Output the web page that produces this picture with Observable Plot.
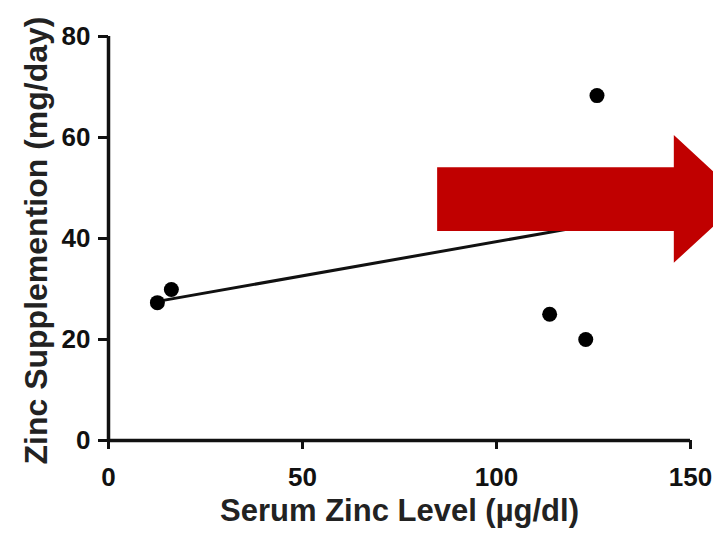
<!DOCTYPE html>
<html><head><meta charset="utf-8">
<script src="https://cdn.jsdelivr.net/npm/d3@7"></script>
<script src="https://cdn.jsdelivr.net/npm/@observablehq/plot@0.6"></script>
<style>body{margin:0;background:#fff;} svg{overflow:visible;}</style>
</head><body><div id="chart"></div>
<script>
const serumZinc = [12.6, 16.2, 113.7, 123, 125.9];
const zincSupp = [27.3, 29.9, 25, 20, 68.3];
const fitX = [13, 126];
const fitY = [27.6, 42.9];
const xTicks = [0, 50, 100, 150];
const yTicks = [0, 20, 40, 60, 80];
const xTitle = "Serum Zinc Level (µg/dl)";
const yTitle = "Zinc Supplemention (mg/day)";
const arrowX = [84.7, 145.7, 145.7, 163.6, 145.7, 145.7, 84.7];
const arrowY = [54.1, 54.1, 60.5, 47.8, 35.2, 41.5, 41.5];

const pts = serumZinc.map((x, i) => ({x, y: zincSupp[i]}));
const fit = fitX.map((x, i) => ({x, y: fitY[i]}));
const arrow = arrowX.map((x, i) => ({x, y: arrowY[i]}));

const chart = Plot.plot({
  width: 713, height: 539,
  marginLeft: 108, marginRight: 23, marginTop: 36, marginBottom: 99,
  x: {domain: [0, 150]},
  y: {domain: [0, 80]},
  style: {fontFamily: "Liberation Sans, Arial, sans-serif", fontWeight: "bold", color: "#111", background: "#fff"},
  marks: [
    Plot.axisX({ticks: xTicks, tickSize: 9, tickPadding: 18, strokeWidth: 3, fontSize: 26, label: null}),
    Plot.axisY({ticks: yTicks, tickSize: 10, tickPadding: 8, strokeWidth: 3, fontSize: 26, label: null}),
    Plot.ruleY([0], {x1: 0, x2: 150, strokeWidth: 3.5, stroke: "#111"}),
    Plot.ruleX([0], {y1: 0, y2: 80, strokeWidth: 3.5, stroke: "#111"}),
    Plot.text([xTitle], {frameAnchor: "bottom", dy: 80, fontSize: 31, fill: "#222"}),
    Plot.text([yTitle], {frameAnchor: "left", textAnchor: "middle", rotate: -90, dx: -72, dy: 2, fontSize: 32, fill: "#222"}),
    Plot.line(fit, {x: "x", y: "y", stroke: "#111", strokeWidth: 3}),
    Plot.dot(pts, {x: "x", y: "y", r: 7.5, fill: "#000", stroke: "none"}),
    Plot.line(arrow, {x: "x", y: "y", fill: "#c00000", stroke: "none", curve: "linear-closed", clip: false})
  ]
});
document.getElementById("chart").append(chart);
</script>
</body></html>
